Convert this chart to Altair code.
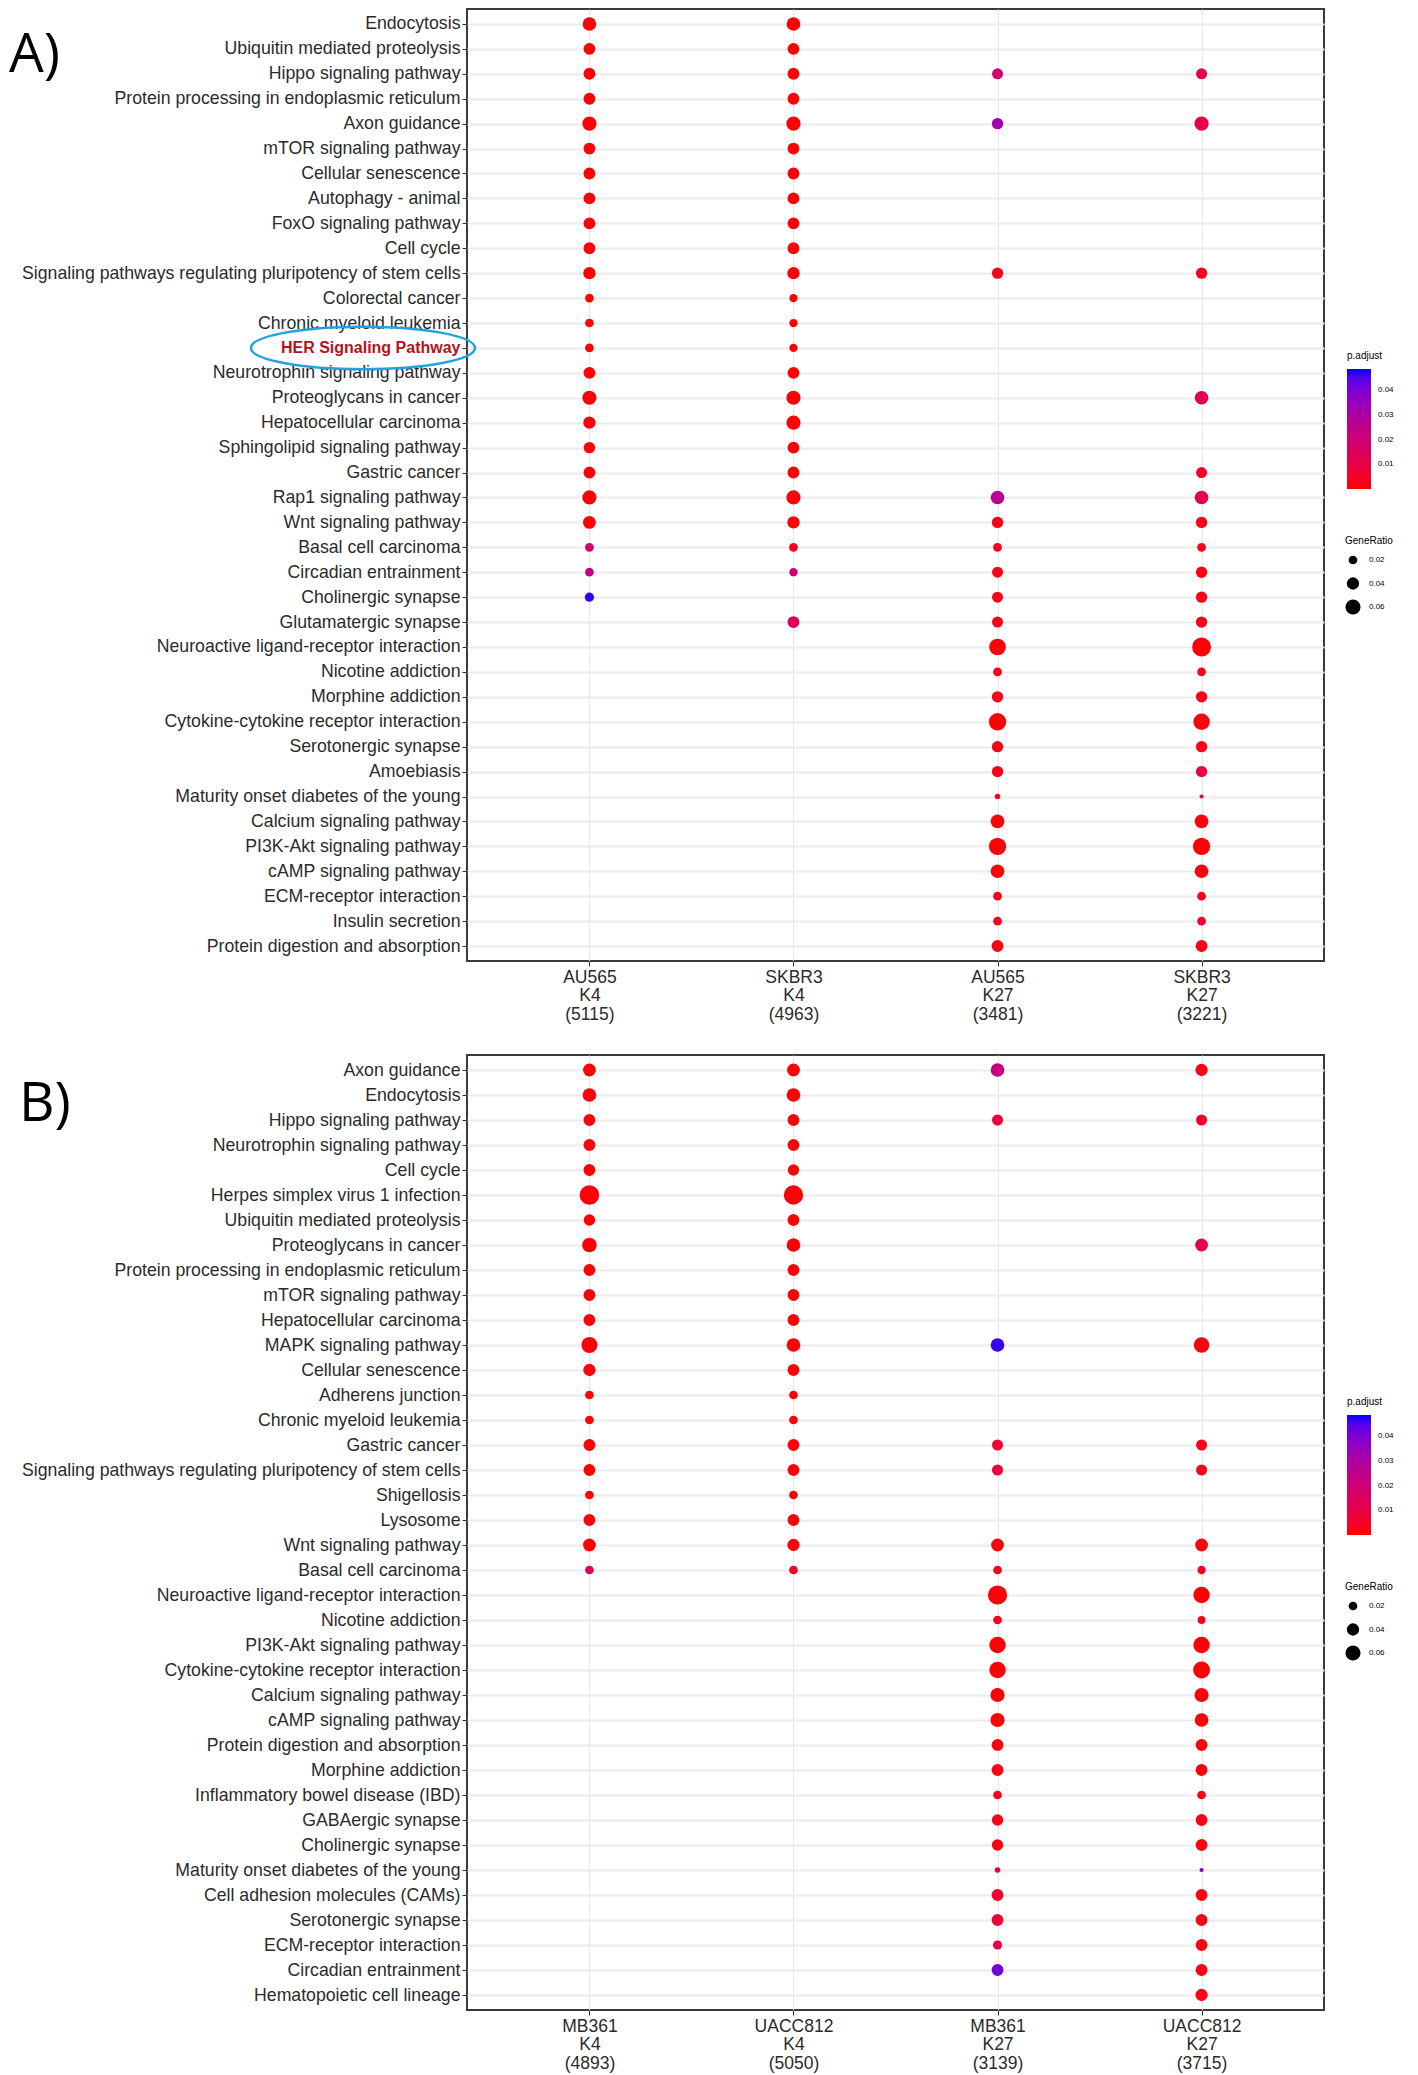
import altair as alt
import pandas as pd

# ---------------- Panel A data ----------------
pathways_a = [
    "Endocytosis", "Ubiquitin mediated proteolysis", "Hippo signaling pathway",
    "Protein processing in endoplasmic reticulum", "Axon guidance", "mTOR signaling pathway",
    "Cellular senescence", "Autophagy - animal", "FoxO signaling pathway", "Cell cycle",
    "Signaling pathways regulating pluripotency of stem cells", "Colorectal cancer",
    "Chronic myeloid leukemia", "HER Signaling Pathway", "Neurotrophin signaling pathway",
    "Proteoglycans in cancer", "Hepatocellular carcinoma", "Sphingolipid signaling pathway",
    "Gastric cancer", "Rap1 signaling pathway", "Wnt signaling pathway", "Basal cell carcinoma",
    "Circadian entrainment", "Cholinergic synapse", "Glutamatergic synapse",
    "Neuroactive ligand-receptor interaction", "Nicotine addiction", "Morphine addiction",
    "Cytokine-cytokine receptor interaction", "Serotonergic synapse", "Amoebiasis",
    "Maturity onset diabetes of the young", "Calcium signaling pathway",
    "PI3K-Akt signaling pathway", "cAMP signaling pathway", "ECM-receptor interaction",
    "Insulin secretion", "Protein digestion and absorption",
]
samples_a = ["AU565 K4 (5115)", "SKBR3 K4 (4963)", "AU565 K27 (3481)", "SKBR3 K27 (3221)"]
N = None
ratio_a = [
    # AU565 K4
    [0.049, 0.037, 0.037, 0.037, 0.053, 0.037, 0.037, 0.037, 0.037, 0.037, 0.040, 0.020,
     0.020, 0.020, 0.037, 0.053, 0.040, 0.034, 0.037, 0.053, 0.043, 0.020, 0.020, 0.022,
     N, N, N, N, N, N, N, N, N, N, N, N, N, N],
    # SKBR3 K4
    [0.049, 0.037, 0.037, 0.037, 0.053, 0.037, 0.037, 0.037, 0.037, 0.037, 0.040, 0.018,
     0.018, 0.018, 0.037, 0.053, 0.053, 0.037, 0.037, 0.053, 0.040, 0.020, 0.018, N,
     0.037, N, N, N, N, N, N, N, N, N, N, N, N, N],
    # AU565 K27
    [N, N, 0.032, N, 0.034, N, N, N, N, N, 0.034, N, N, N, N, N, N, N, N, 0.049, 0.034,
     0.020, 0.032, 0.032, 0.032, 0.073, 0.020, 0.034, 0.079, 0.034, 0.034, 0.008, 0.049,
     0.079, 0.049, 0.020, 0.020, 0.037],
    # SKBR3 K27
    [N, N, 0.032, N, 0.053, N, N, N, N, N, 0.034, N, N, N, N, 0.049, N, N, 0.032, 0.049,
     0.034, 0.020, 0.034, 0.034, 0.034, 0.094, 0.020, 0.034, 0.071, 0.034, 0.034, 0.0045,
     0.049, 0.079, 0.049, 0.020, 0.020, 0.037],
]
padj_a = [
    [0.0005] * 21 + [0.019, 0.022, 0.047] + [N] * 14,
    [0.0005] * 21 + [0.004, 0.019, N, 0.014] + [N] * 13,
    [N, N, 0.019, N, 0.032, N, N, N, N, N, 0.003, N, N, N, N, N, N, N, N, 0.026, 0.002,
     0.003, 0.002, 0.002, 0.002, 0.0005, 0.002, 0.002, 0.0005, 0.002, 0.003, 0.003, 0.0005,
     0.0005, 0.0005, 0.002, 0.003, 0.001],
    [N, N, 0.011, N, 0.010, N, N, N, N, N, 0.004, N, N, N, N, 0.012, N, N, 0.005, 0.013,
     0.002, 0.003, 0.002, 0.002, 0.003, 0.0005, 0.002, 0.002, 0.001, 0.002, 0.010, 0.005,
     0.001, 0.0005, 0.001, 0.003, 0.008, 0.002],
]

# ---------------- Panel B data ----------------
pathways_b = [
    "Axon guidance", "Endocytosis", "Hippo signaling pathway", "Neurotrophin signaling pathway",
    "Cell cycle", "Herpes simplex virus 1 infection", "Ubiquitin mediated proteolysis",
    "Proteoglycans in cancer", "Protein processing in endoplasmic reticulum",
    "mTOR signaling pathway", "Hepatocellular carcinoma", "MAPK signaling pathway",
    "Cellular senescence", "Adherens junction", "Chronic myeloid leukemia", "Gastric cancer",
    "Signaling pathways regulating pluripotency of stem cells", "Shigellosis", "Lysosome",
    "Wnt signaling pathway", "Basal cell carcinoma", "Neuroactive ligand-receptor interaction",
    "Nicotine addiction", "PI3K-Akt signaling pathway", "Cytokine-cytokine receptor interaction",
    "Calcium signaling pathway", "cAMP signaling pathway", "Protein digestion and absorption",
    "Morphine addiction", "Inflammatory bowel disease (IBD)", "GABAergic synapse",
    "Cholinergic synapse", "Maturity onset diabetes of the young",
    "Cell adhesion molecules (CAMs)", "Serotonergic synapse", "ECM-receptor interaction",
    "Circadian entrainment", "Hematopoietic cell lineage",
]
samples_b = ["MB361 K4 (4893)", "UACC812 K4 (5050)", "MB361 K27 (3139)", "UACC812 K27 (3715)"]
ratio_b = [
    # MB361 K4
    [0.043, 0.049, 0.037, 0.037, 0.037, 0.101, 0.035, 0.056, 0.037, 0.037, 0.037, 0.067,
     0.040, 0.020, 0.020, 0.037, 0.037, 0.020, 0.037, 0.043, 0.020] + [N] * 17,
    # UACC812 K4
    [0.043, 0.049, 0.037, 0.037, 0.034, 0.098, 0.037, 0.049, 0.037, 0.037, 0.037, 0.049,
     0.037, 0.020, 0.020, 0.037, 0.037, 0.020, 0.037, 0.040, 0.020] + [N] * 17,
    # MB361 K27
    [0.049, N, 0.032, N, N, N, N, N, N, N, N, 0.049, N, N, N, 0.032, 0.032, N, N, 0.043,
     0.020, 0.097, 0.020, 0.071, 0.071, 0.053, 0.053, 0.037, 0.037, 0.020, 0.034, 0.034,
     0.008, 0.037, 0.037, 0.022, 0.037, N],
    # UACC812 K27
    [0.040, N, 0.032, N, N, N, N, 0.043, N, N, N, 0.063, N, N, N, 0.032, 0.032, N, N, 0.043,
     0.018, 0.071, 0.016, 0.071, 0.075, 0.053, 0.049, 0.037, 0.037, 0.020, 0.037, 0.037,
     0.0045, 0.037, 0.037, 0.037, 0.037, 0.040],
]
padj_b = [
    [0.0005] * 20 + [0.014] + [N] * 17,
    [0.0005] * 20 + [0.004] + [N] * 17,
    [0.023, N, 0.008, N, N, N, N, N, N, N, N, 0.047, N, N, N, 0.006, 0.007, N, N, 0.001,
     0.003, 0.0005, 0.002, 0.0005, 0.0005, 0.0005, 0.0005, 0.001, 0.002, 0.002, 0.002, 0.002,
     0.004, 0.006, 0.006, 0.010, 0.041, N],
    [0.002, N, 0.004, N, N, N, N, 0.011, N, N, N, 0.001, N, N, N, 0.003, 0.003, N, N, 0.001,
     0.003, 0.0005, 0.002, 0.0005, 0.0005, 0.0005, 0.0005, 0.001, 0.001, 0.002, 0.002, 0.002,
     0.038, 0.002, 0.002, 0.002, 0.002, 0.002],
]

highlight = "HER Signaling Pathway"
panel_letters = ["A)", "B)"]
size_legend_values = [0.02, 0.04, 0.06]
color_legend_values = [0.01, 0.02, 0.03, 0.04]

FONT = "Liberation Sans"
ELLIPSE = "M -1 0 A 1 0.19 0 1 1 1 0 A 1 0.19 0 1 1 -1 0 Z"


def long_table(pathways, samples, ratios, padjs):
    rows = []
    for s, rcol, pcol in zip(samples, ratios, padjs):
        for p, r, q in zip(pathways, rcol, pcol):
            if r is not None:
                rows.append({"pathway": p, "sample": s, "ratio": r, "padj": q})
    return pd.DataFrame(rows)


def panel(pathways, samples, ratios, padjs, letter, letter_x, letter_y, height, with_ellipse):
    df = long_table(pathways, samples, ratios, padjs)
    xs = alt.Scale(type="point", domain=samples, padding=0.6)
    ys = alt.Scale(type="point", domain=pathways, padding=0.6)
    is_hl = f"datum.value === '{highlight}'"
    y_axis = alt.Axis(
        title=None,
        labelFont=FONT,
        labelFontSize={"condition": {"test": is_hl, "value": 16}, "value": 17.7},
        labelColor={"condition": {"test": is_hl, "value": "#b3141c"}, "value": "#2b2b2b"},
        labelFontWeight={"condition": {"test": is_hl, "value": "bold"}, "value": "normal"},
        labelLimit=700, tickSize=5, tickColor="#333333", labelPadding=2, domain=False,
        grid=True, gridColor="#ebebeb", gridWidth=2,
    )
    x_axis = alt.Axis(
        title=None, labelFont=FONT, labelExpr="split(datum.value, ' ')", labelAngle=0,
        labelFontSize=17.5, labelLineHeight=18.5, labelColor="#2b2b2b", tickColor="#333333",
        tickSize=5, labelPadding=2, domain=False, grid=True, gridColor="#e8e8e8", gridWidth=1,
    )
    pts = alt.Chart(df).mark_circle(opacity=1).encode(
        x=alt.X("sample:N", scale=xs, axis=x_axis),
        y=alt.Y("pathway:N", scale=ys, axis=y_axis),
        color=alt.Color(
            "padj:Q",
            scale=alt.Scale(domain=[0, 0.0485], range=["#ff0000", "#0000ff"], interpolate="lab"),
            legend=alt.Legend(
                title="p.adjust", orient="none", legendX=880, legendY=342, direction="vertical",
                gradientLength=120, gradientThickness=24, values=color_legend_values,
                labelFontSize=8, titleFontSize=10, labelOffset=7, titlePadding=8,
                labelOverlap=False, gradientStrokeWidth=0, titleFontWeight="normal",
                titleColor="#000000", labelColor="#000000", titleFont=FONT, labelFont=FONT,
            ),
        ),
        size=alt.Size(
            "ratio:Q",
            scale=alt.Scale(domain=[0, 0.1], range=[0, 380]),
            legend=alt.Legend(
                title="GeneRatio", orient="none", legendX=878, legendY=527,
                values=size_legend_values, symbolFillColor="#000000", symbolStrokeColor="#000000",
                symbolStrokeWidth=0, symbolOpacity=1, symbolType="circle",
                labelFontSize=8, titleFontSize=10, rowPadding=3.5, clipHeight=20,
                labelOffset=8, titlePadding=4, titleFontWeight="normal",
                titleColor="#000000", labelColor="#000000", titleFont=FONT, labelFont=FONT,
            ),
        ),
    )
    layers = [pts]
    if with_ellipse:
        edf = pd.DataFrame({"pathway": [highlight]})
        ell = alt.Chart(edf).mark_point(
            shape=ELLIPSE, size=224 * 224, filled=False, stroke="#22a3e0", strokeWidth=2.5, opacity=1
        ).encode(y=alt.Y("pathway:N", scale=ys), x=alt.value(-104))
        layers.append(ell)
    ldf = pd.DataFrame({"t": [letter]})
    lab = alt.Chart(ldf).mark_text(
        align="left", baseline="alphabetic", fontSize=55, font="Open Sans", color="#000000"
    ).encode(text="t:N", x=alt.value(letter_x), y=alt.value(letter_y))
    layers.append(lab)
    return alt.layer(*layers).properties(
        width=857, height=height,
        view=alt.ViewBackground(stroke="#3a3a3a", strokeWidth=2, fill="white"),
    )


pa = panel(pathways_a, samples_a, ratio_a, padj_a, panel_letters[0], -458, 63, 952, True)
pb = panel(pathways_b, samples_b, ratio_b, padj_b, panel_letters[1], -448, 66, 955, False)

chart = (
    alt.vconcat(pa, pb, spacing=30)
    .resolve_scale(color="independent", size="independent", x="independent", y="independent")
    .resolve_legend(color="independent", size="independent")
    .properties(padding=0, background="white")
    .configure_view(stroke="#3a3a3a", strokeWidth=2)
    .configure_axis(labelFont=FONT)
)

chart.save("out.html", embed_options={"renderer": "svg", "actions": False})
